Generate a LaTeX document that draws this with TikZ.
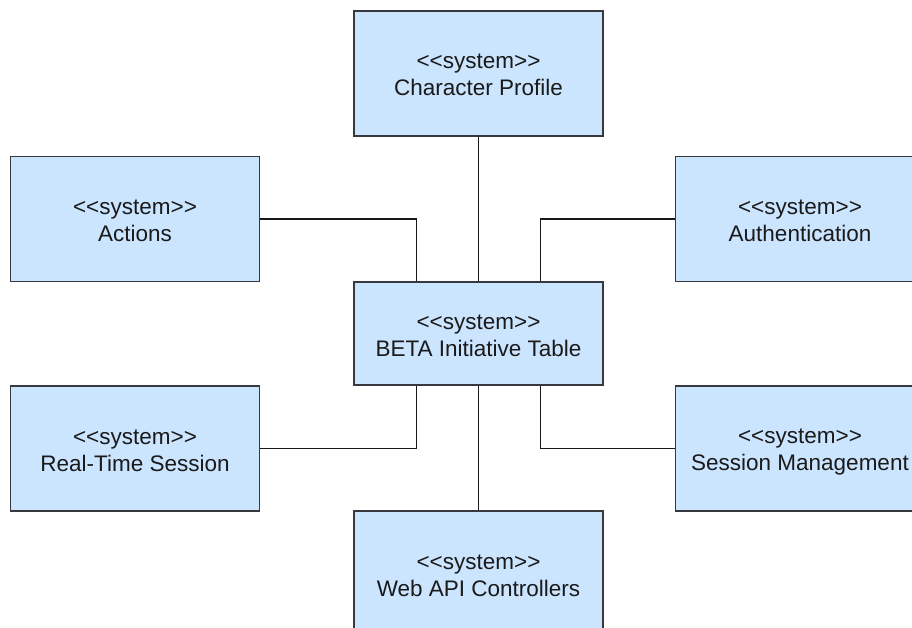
\documentclass[tikz,border=0pt]{standalone}
\usepackage{fontspec}
\setmainfont{Liberation Sans}[Ligatures=TeXOff]
\definecolor{boxfill}{HTML}{CCE5FF}
\definecolor{boxline}{HTML}{36393D}
\definecolor{txt}{HTML}{1A1A1A}
\newcommand{\linestrut}{\rule[-4pt]{0pt}{26pt}}
\newcommand{\sysname}[1]{\linestrut<\kern0pt<system>\kern0pt>\\\linestrut #1}
\begin{document}
\begin{tikzpicture}[x=1pt,y=-1pt,
  sysbox/.style={rectangle,draw=boxline,fill=boxfill,line width=1.8pt,
    minimum width=249pt,minimum height=125pt,inner sep=0pt,align=center,
    text=txt,font=\fontsize{22.5}{27}\selectfont},
  link/.style={draw=black!90,line width=1.7pt}]
\useasboundingbox (0,0) rectangle (912,628);
\clip (0,0) rectangle (912,628);
\node[sysbox] (cp) at (478.5,73.5) {\sysname{Character Profile}};
\node[sysbox] (act) at (135,219) {\sysname{Actions}};
\node[sysbox] (auth) at (800,219) {\sysname{Authentication}};
\node[sysbox,minimum height=103pt] (beta) at (478.5,333.5) {\sysname{BETA Initiative Table}};
\node[sysbox] (rts) at (135,448.5) {\sysname{Real-Time Session}};
\node[sysbox] (sm) at (800,448.5) {\sysname{Session Management}};
\node[sysbox] (web) at (478.5,573.5) {\sysname{Web API Controllers}};
\draw[link] (cp.south) -- (beta.north);
\draw[link] (act.east) -| ([xshift=-62pt]beta.north);
\draw[link] (auth.west) -| ([xshift=62pt]beta.north);
\draw[link] (rts.east) -| ([xshift=-62pt]beta.south);
\draw[link] (sm.west) -| ([xshift=62pt]beta.south);
\draw[link] (beta.south) -- (web.north);
\end{tikzpicture}
\end{document}
